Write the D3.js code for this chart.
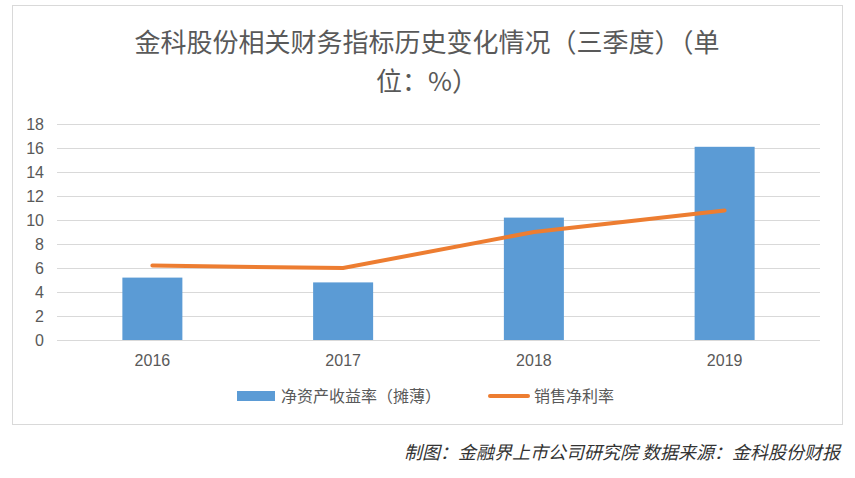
<!DOCTYPE html>
<html><head><meta charset="utf-8">
<script src="https://cdn.jsdelivr.net/npm/d3@7"></script>
<style>body{margin:0;background:#fff;font-family:"Noto Sans CJK SC","Liberation Sans",sans-serif}</style>
</head><body><div id="chart"></div>
<script>
// Chart data
const years = ["2016", "2017", "2018", "2019"];
const roe = [5.2, 4.8, 10.2, 16.1];
const netMargin = [6.2, 6.0, 9.0, 10.8];
const yTicks = [0, 2, 4, 6, 8, 10, 12, 14, 16, 18];

const width = 855, height = 478;
const svg = d3.select("#chart").append("svg").attr("width", width).attr("height", height);

svg.append("rect").attr("x", 12.5).attr("y", 5.5).attr("width", 830).attr("height", 419)
    .attr("fill", "#fff").attr("stroke", "#d9d9d9");

// Title
const title = svg.append("text").attr("text-anchor", "middle").attr("fill", "#595959").attr("font-size", 26);
title.append("tspan").attr("x", 427).attr("y", 52).text("金科股份相关财务指标历史变化情况（三季度）（单");
title.append("tspan").attr("x", 427).attr("y", 91).text("位：%）");

const x = d3.scaleBand().domain(years).range([57, 820]);
const y = d3.scaleLinear().domain([0, 18]).range([340, 124]);

// Gridlines and y labels
svg.append("g").selectAll("line").data(yTicks).enter().append("line")
    .attr("x1", 57).attr("x2", 820).attr("y1", d => y(d) + 0.5).attr("y2", d => y(d) + 0.5)
    .attr("stroke", "#d9d9d9");
svg.append("g").selectAll("text").data(yTicks).enter().append("text")
    .attr("x", 44).attr("y", d => y(d) + 6).attr("text-anchor", "end")
    .attr("font-size", 16).attr("fill", "#595959").attr("font-family", "Liberation Sans").text(d => d);

// Bars
svg.append("g").selectAll("rect").data(roe).enter().append("rect")
    .attr("x", (d, i) => x(years[i]) + x.bandwidth() / 2 - 30).attr("width", 60)
    .attr("y", d => y(d)).attr("height", d => y(0) - y(d)).attr("fill", "#5b9bd5");

// X labels
svg.append("g").selectAll("text").data(years).enter().append("text")
    .attr("x", d => x(d) + x.bandwidth() / 2).attr("y", 366).attr("text-anchor", "middle")
    .attr("font-size", 16).attr("fill", "#595959").attr("font-family", "Liberation Sans").text(d => d);

// Line
const line = d3.line().x((d, i) => x(years[i]) + x.bandwidth() / 2).y(d => y(d));
svg.append("path").attr("d", line(netMargin)).attr("fill", "none")
    .attr("stroke", "#ed7d31").attr("stroke-width", 4).attr("stroke-linecap", "round");

// Legend
svg.append("rect").attr("x", 237).attr("y", 391).attr("width", 38).attr("height", 10).attr("fill", "#5b9bd5");
svg.append("text").attr("x", 281).attr("y", 402).attr("font-size", 16).attr("fill", "#595959").text("净资产收益率（摊薄）");
svg.append("line").attr("x1", 490).attr("x2", 528).attr("y1", 396).attr("y2", 396)
    .attr("stroke", "#ed7d31").attr("stroke-width", 4).attr("stroke-linecap", "round");
svg.append("text").attr("x", 534).attr("y", 402).attr("font-size", 16).attr("fill", "#595959").text("销售净利率");

// Source
svg.append("text").attr("x", 840).attr("y", 459).attr("text-anchor", "end").attr("font-size", 18)
    .attr("font-style", "italic").attr("fill", "#333").text("制图：金融界上市公司研究院  数据来源：金科股份财报");
</script></body></html>
